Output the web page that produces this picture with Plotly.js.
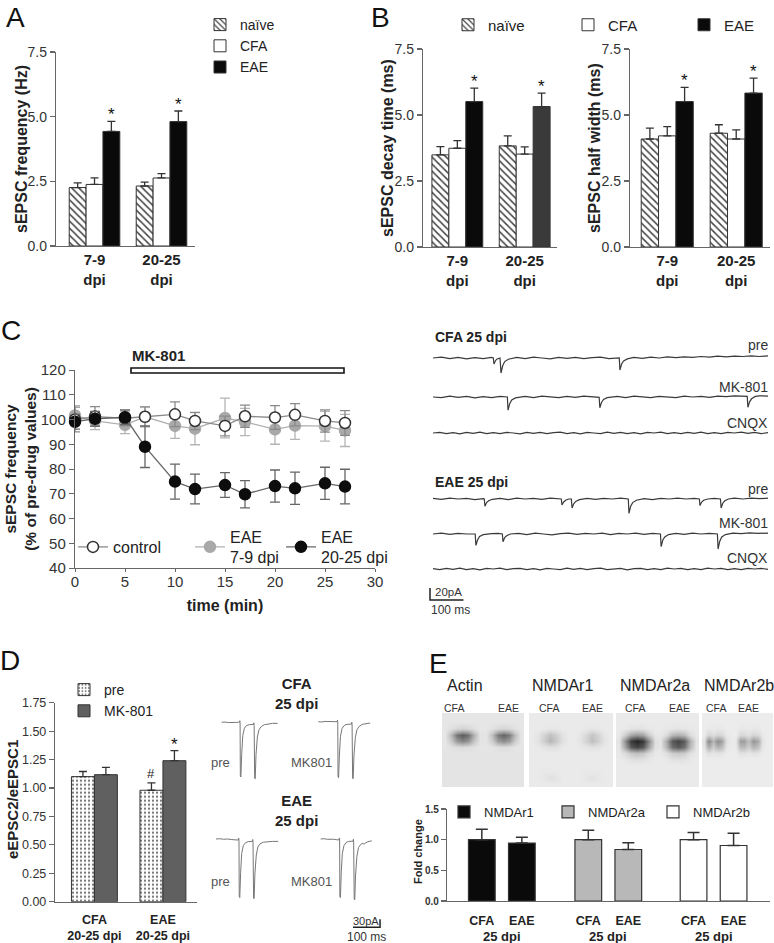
<!DOCTYPE html>
<html><head><meta charset="utf-8">
<script src="https://cdn.plot.ly/plotly-3.0.1.min.js"></script>
<style>body{margin:0;background:#fff}#plot{width:774px;height:943px}</style>
</head><body><div id="plot"></div>
<script>
// ================= DATA =================
// Panels A/B: groups and series
const groupsAB = ['7-9<br>dpi', '20-25<br>dpi'];
const seriesAB = ['naïve', 'CFA', 'EAE'];
// A: sEPSC frequency (Hz)
const freqNaive = [2.26, 2.32], freqNaiveErr = [0.18, 0.15];
const freqCFA = [2.38, 2.63], freqCFAErr = [0.25, 0.17];
const freqEAE = [4.43, 4.81], freqEAEErr = [0.39, 0.41];
// B: sEPSC decay time (ms)
const decayNaive = [3.49, 3.83], decayNaiveErr = [0.31, 0.38];
const decayCFA = [3.74, 3.52], decayCFAErr = [0.29, 0.27];
const decayEAE = [5.51, 5.32], decayEAEErr = [0.51, 0.51];
// B: sEPSC half width (ms)
const hwNaive = [4.09, 4.31], hwNaiveErr = [0.41, 0.32];
const hwCFA = [4.21, 4.09], hwCFAErr = [0.35, 0.35];
const hwEAE = [5.51, 5.83], hwEAEErr = [0.54, 0.57];
const titlesAB = ['sEPSC frequency (Hz)', 'sEPSC decay time (ms)', 'sEPSC half width (ms)'];

// C: time course (% of pre-drug values)
const timeMin = [0, 2, 5, 7, 10, 12, 15, 17, 20, 22, 25, 27];
const ctrl = [100, 101.2, 100.5, 101.1, 102.1, 99.4, 97.4, 101.3, 100.8, 101.9, 99.4, 98.6];
const ctrlErr = [5, 4, 3, 4, 5, 3.5, 4, 4.5, 4.8, 4.5, 4.5, 5];
const eae79 = [101.6, 99.4, 97.8, 101.1, 97.4, 96.3, 100.6, 99, 96, 97.5, 97.3, 95.6];
const eae79Err = [4, 3.5, 3.5, 4, 5, 6.5, 8, 5.5, 6, 5.5, 6, 6.5];
const eae2025 = [99.1, 100.3, 100.9, 89, 74.9, 71.9, 73.5, 69.8, 73.1, 72.2, 74.2, 72.9];
const eae2025Err = [3, 3, 3, 8.4, 7.1, 6, 5, 5.5, 6.5, 6.5, 6.5, 7];
const mkPeriod = [5.6, 26.9];           // MK-801 application (min)
const legendC = ['control', 'EAE<br>7-9 dpi', 'EAE<br>20-25 dpi'];

// C: example sEPSC recordings [ms, pA]
const cfaPre = [[0,0],[25,1.5],[50,-1],[75,1],[100,-1.5],[125,0.5],[150,-1],[175,1],[180,0],[182,-10],[186,-5],[190,-2],[200,0],[203,-25],[208,-13],[214,-6],[225,-2],[250,1],[275,-1],[300,1.5],[325,0],[350,-1.5],[375,1],[400,-0.5],[425,1],[450,-1],[475,0.5],[500,1.5],[525,-1],[550,0.5],[556,0],[558,-20],[563,-10],[569,-5],[580,-1.5],[600,1],[625,-0.5],[650,1.5],[675,0],[700,2],[725,0.5],[750,2],[775,1],[800,2.5],[825,1.5],[850,3],[875,2],[900,3],[925,2.5],[950,3.5],[975,2.5],[1000,3.5]];
const cfaMK = [[0,0],[25,-1],[50,1.5],[75,-0.5],[100,1],[125,-1.5],[150,0.5],[175,-1],[200,1],[222,0],[224,-22],[229,-11],[235,-5],[246,-1.5],[275,1],[300,-1],[325,1.5],[350,0],[375,-1],[400,1],[425,-0.5],[450,1.5],[475,0],[496,-0.5],[498,-18],[503,-9],[509,-4],[520,-1],[550,1],[575,-1],[600,1.5],[625,0],[650,-1],[675,1],[700,0.5],[725,-1],[750,1.5],[775,0],[800,1],[825,-0.5],[850,1.5],[875,0.5],[900,2],[925,1],[938,1],[940,-17],[945,-8],[951,-3],[962,1],[975,2],[1000,1.5]];
const cfaCNQX = [[0,0],[20,1],[40,-1],[60,0.5],[80,-1.5],[100,1],[120,-0.5],[140,1.5],[160,-1],[180,0.5],[200,-1],[220,1],[240,0],[260,-1.5],[280,1],[300,-0.5],[320,1],[340,-1],[360,0.5],[380,1.5],[400,-1],[420,0.5],[440,-1.5],[460,1],[480,0],[500,-1],[520,1.5],[540,-0.5],[560,1],[580,-1],[600,0.5],[620,-1.5],[640,1],[660,0],[680,1.5],[700,-1],[720,0.5],[740,-1],[760,1],[780,-0.5],[800,1.5],[820,-1],[840,0.5],[860,-1],[880,1],[900,0],[920,1.5],[940,-0.5],[960,1],[980,-1],[1000,0.5]];
const eaePre = [[0,1],[25,-0.5],[50,1.5],[75,0],[100,1],[125,-1],[150,0.5],[153,0],[155,-12],[160,-6],[166,-3],[177,-0.5],[200,1],[225,-1],[250,1.5],[275,0],[300,1],[325,-0.5],[350,1.5],[375,0.5],[383,0],[385,-10],[390,-5],[396,-2],[405,0],[413,0],[415,-15],[420,-8],[426,-4],[437,-1],[460,1],[485,-0.5],[510,1],[535,0],[560,1.5],[583,0],[585,-24],[590,-12],[596,-6],[607,-2],[630,0.5],[655,-1],[680,1],[705,0],[730,1.5],[755,0],[780,1],[795,0],[797,-11],[802,-5],[808,-2],[820,0],[840,1],[858,0],[860,-15],[865,-7],[871,-3],[882,0],[900,1.5],[925,0],[950,1.5],[975,0.5],[1000,1.5]];
const eaeMK = [[0,0],[25,1.5],[50,-0.5],[75,1],[100,0],[126,0],[128,-19],[133,-10],[139,-4],[150,-1],[175,0.5],[195,1],[207,0],[209,-13],[214,-6],[220,-3],[231,0],[255,1],[280,-1],[305,1.5],[330,0],[355,-1.5],[380,0.5],[405,1.5],[430,-0.5],[455,1],[480,0],[505,1.5],[530,-1],[555,1],[580,0],[605,1.5],[630,-0.5],[655,1],[679,0],[681,-21],[686,-10],[692,-5],[703,-1],[725,1],[750,-0.5],[775,1.5],[800,0],[825,1],[849,0],[851,-25],[856,-12],[862,-5],[873,-1],[895,1.5],[920,0.5],[945,2],[970,1],[1000,1.5]];
const eaeCNQX = [[0,0.5],[20,-1],[40,1],[60,-0.5],[80,1.5],[100,-1],[120,0.5],[140,-1.5],[160,1],[180,0],[200,1.5],[220,-1],[240,0.5],[260,1],[280,-1],[300,0.5],[320,-1.5],[340,1],[360,0],[380,-1],[400,1.5],[420,-0.5],[440,1],[460,-1],[480,0.5],[500,1.5],[520,-1],[540,0],[560,1],[580,-1.5],[600,0.5],[620,1],[640,-1],[660,0.5],[680,-1],[700,1.5],[720,0],[740,1],[760,-1],[780,0.5],[800,-1],[820,1.5],[840,0],[860,1],[880,-1],[900,0.5],[920,-1],[940,1],[960,0],[980,1],[1000,-0.5]];
const scaleC = {ms: 100, pA: 20};

// D: paired-pulse ratio
const groupsD = ['CFA<br>20-25 dpi', 'EAE<br>20-25 dpi'];
const seriesD = ['pre', 'MK-801'];
const ppPre = [1.10, 0.98], ppPreErr = [0.045, 0.065];
const ppMK = [1.117, 1.24], ppMKErr = [0.065, 0.088];
// D: example evoked EPSC pairs [ms, pA]
const dCfaPre = [[0,0],[12,1],[25,-1],[38,0.5],[50,-0.5],[62,0],[66,0],[67,6],[68,-2],[69,-200],[71,-205],[74,-120],[78,-50],[84,-22],[92,-12],[102,-9],[112,-8],[118,-8],[119,-2],[120,-12],[122,-210],[124,-212],[127,-120],[132,-55],[138,-28],[146,-16],[158,-9],[172,-6],[188,-4],[207,-4]];
const dCfaMK = [[0,0],[12,-1],[25,1],[38,0],[50,1],[62,-0.5],[70,0],[71,6],[72,-2],[73,-205],[75,-210],[78,-125],[82,-55],[88,-25],[96,-14],[106,-10],[116,-9],[123,-9],[124,-2],[125,-12],[127,-212],[129,-214],[132,-125],[137,-60],[143,-30],[151,-18],[162,-10],[175,-7],[192,-5]];
const dEaePre = [[0,0],[14,1],[28,-1],[42,0],[56,-2],[70,-4],[82,-4],[84,3],[85,-4],[86,-215],[88,-220],[91,-130],[95,-55],[101,-25],[109,-14],[119,-10],[129,-9],[135,-9],[136,-2],[137,-12],[139,-222],[141,-224],[144,-130],[149,-60],[155,-30],[163,-18],[175,-12],[190,-10],[210,-9],[230,-9]];
const dEaeMK = [[0,0],[12,1],[24,-1],[36,0],[48,-1],[60,-3],[68,-3],[69,4],[70,-3],[71,-215],[73,-220],[76,-125],[80,-55],[86,-25],[94,-13],[104,-9],[114,-8],[120,-8],[121,-1],[122,-12],[124,-225],[126,-228],[129,-135],[134,-65],[140,-32],[148,-20],[156,-16],[160,-20],[165,-15],[175,-10],[189,-7]];
const scaleD = {ms: 100, pA: 30};

// E: western blot densities (rows top->bottom, lanes left->right)
const blotNames = ['Actin', 'NMDAr1', 'NMDAr2a', 'NMDAr2b'];
const laneNames = ['CFA', 'EAE'];
const blotActin = [
 [.03,.03,.03,.03,.03,.03,.03,.03,.03,.03,.03,.03,.03,.03],
 [.03,.03,.03,.03,.03,.03,.03,.03,.03,.03,.03,.03,.03,.03],
 [.03,.06,.10,.12,.10,.06,.03,.03,.05,.09,.11,.09,.05,.03],
 [.03,.25,.58,.70,.60,.28,.04,.04,.22,.55,.66,.55,.22,.03],
 [.03,.16,.40,.50,.42,.18,.04,.04,.15,.38,.46,.38,.15,.03],
 [.03,.05,.07,.08,.07,.05,.03,.03,.04,.06,.07,.06,.04,.03],
 [.04,.04,.04,.04,.04,.04,.04,.04,.04,.04,.04,.04,.04,.04],
 [.04,.04,.04,.04,.04,.04,.04,.04,.04,.04,.04,.04,.04,.04],
 [.04,.04,.04,.04,.04,.04,.04,.04,.04,.04,.04,.04,.04,.04],
 [.04,.04,.04,.04,.04,.04,.04,.04,.04,.04,.04,.04,.04,.04],
 [.04,.04,.04,.04,.04,.04,.04,.04,.04,.04,.04,.04,.04,.04],
 [.04,.04,.04,.04,.04,.04,.04,.04,.04,.04,.04,.04,.04,.04]];
const blotR1 = [
 [.01,.01,.01,.01,.01,.01,.01,.01,.01,.01,.01,.01,.01,.01],
 [.01,.01,.01,.01,.01,.01,.01,.01,.01,.01,.01,.01,.01,.01],
 [.01,.01,.02,.03,.02,.01,.01,.01,.01,.02,.03,.02,.01,.01],
 [.01,.04,.12,.22,.15,.05,.01,.01,.03,.10,.19,.12,.03,.01],
 [.01,.05,.15,.26,.17,.06,.01,.01,.04,.12,.22,.14,.04,.01],
 [.01,.02,.04,.06,.05,.02,.01,.01,.02,.03,.05,.04,.02,.01],
 [.01,.01,.01,.01,.01,.01,.01,.01,.01,.01,.01,.01,.01,.01],
 [.01,.01,.01,.01,.01,.01,.01,.01,.01,.01,.01,.01,.01,.01],
 [.01,.01,.01,.01,.01,.01,.01,.01,.01,.01,.01,.01,.01,.01],
 [.01,.01,.02,.02,.02,.01,.01,.01,.01,.02,.02,.02,.01,.01],
 [.01,.01,.03,.06,.04,.01,.01,.01,.01,.03,.05,.03,.01,.01],
 [.01,.01,.01,.01,.01,.01,.01,.01,.01,.01,.01,.01,.01,.01]];
const blotR2a = [
 [.01,.01,.01,.01,.01,.01,.01,.01,.01,.01,.01,.01,.01,.01],
 [.01,.01,.01,.01,.01,.01,.01,.01,.01,.01,.01,.01,.01,.01],
 [.01,.02,.04,.05,.04,.02,.01,.01,.02,.03,.04,.03,.02,.01],
 [.02,.15,.35,.42,.35,.15,.03,.02,.08,.25,.30,.25,.08,.02],
 [.04,.45,.85,.95,.85,.45,.06,.04,.30,.70,.80,.70,.30,.04],
 [.03,.35,.70,.80,.70,.35,.05,.03,.25,.60,.70,.60,.25,.03],
 [.02,.08,.18,.22,.18,.08,.02,.02,.06,.15,.18,.15,.06,.02],
 [.01,.03,.06,.07,.06,.03,.01,.01,.02,.05,.06,.05,.02,.01],
 [.01,.01,.01,.01,.01,.01,.01,.01,.01,.01,.01,.01,.01,.01],
 [.01,.01,.01,.01,.01,.01,.01,.01,.01,.01,.01,.01,.01,.01],
 [.01,.01,.01,.01,.01,.01,.01,.01,.01,.01,.01,.01,.01,.01],
 [.01,.01,.01,.01,.01,.01,.01,.01,.01,.01,.01,.01,.01,.01]];
const blotR2b = [
 [0,0,0,0,0,0,0,0,0,0,0,0,0,0,0,0],
 [0,0,0,0,0,0,0,0,0,0,0,0,0,0,0,0],
 [0,.02,.01,.02,.02,0,0,0,.02,.02,.01,.02,.02,0,0,0],
 [0,.12,.07,.12,.10,.02,0,0,.10,.10,.06,.12,.10,.02,0,0],
 [.05,.48,.25,.45,.35,.05,.01,.02,.38,.38,.22,.42,.34,.05,0,0],
 [.03,.30,.15,.28,.22,.03,.01,.01,.24,.24,.14,.27,.22,.03,0,0],
 [0,.06,.03,.05,.04,0,0,0,.05,.05,.03,.05,.04,0,0,0],
 [0,0,0,0,0,0,0,0,0,0,0,0,0,0,0,0],
 [0,0,0,0,0,0,0,0,0,0,0,0,0,0,0,0],
 [0,0,0,0,0,0,0,0,0,0,0,0,0,0,0,0],
 [0,0,0,0,0,0,0,0,0,0,0,0,0,0,0,0],
 [0,0,0,0,0,0,0,0,0,0,0,0,0,0,0,0]];
// E: fold change
const receptorNames = ['NMDAr1', 'NMDAr2a', 'NMDAr2b'];
const eLanes = ['CFA', 'EAE'];
const foldR1 = [1.0, 0.945], foldR1Err = [0.17, 0.095];
const foldR2a = [1.0, 0.84], foldR2aErr = [0.155, 0.11];
const foldR2b = [1.0, 0.905], foldR2bErr = [0.115, 0.20];

// ================= LAYOUT HELPERS =================
const F = 'Liberation Sans, Arial, Helvetica, sans-serif';
const W = 774, H = 943;
const X = p => p / W, Y = p => 1 - p / H;
const domX = (a, b) => [a / W, b / W];
const domY = (top, bot) => [1 - bot / H, 1 - top / H];
const zeros = a => a.map(() => 0);
const AX = '#666';

function yBar(top, bot, anchor, range, dtick, fmt, fsize) {
  return {domain: domY(top, bot), anchor, range, dtick, tick0: 0, tickformat: fmt,
    showline: true, linecolor: AX, linewidth: 1.2, ticks: 'outside', ticklen: 5, tickcolor: AX, tickwidth: 1.2,
    tickfont: {family: F, size: fsize || 14, color: '#333'}, showgrid: false, zeroline: false, automargin: false,
    fixedrange: true};
}
function xBar(l, r, anchor, range, extra) {
  return Object.assign({domain: domX(l, r), anchor, range, type: 'category', showline: true, linecolor: AX,
    linewidth: 1.2, ticks: '', tickfont: {family: F, size: 15, color: '#222', weight: 'bold'},
    showgrid: false, zeroline: false, automargin: false, fixedrange: true}, extra || {});
}
function hid(dom, anchor, range) {
  return {domain: dom, anchor, range, visible: false, fixedrange: true, showgrid: false, zeroline: false};
}
function txt(text, x, y, o) {
  o = o || {};
  const f = Object.assign({family: F, size: 13, color: '#222'}, o.font || {});
  const a = Object.assign({text, x: X(x), y: Y(y), xref: 'paper', yref: 'paper', showarrow: false,
    xanchor: 'center', yanchor: 'middle'}, o);
  a.font = f;
  return a;
}
function leg(x, y, o) {
  o = o || {};
  const f = Object.assign({family: F, size: 15, color: '#222'}, o.font || {});
  const l = Object.assign({x: X(x), y: Y(y), xanchor: 'left', yanchor: 'middle', bgcolor: 'rgba(0,0,0,0)',
    borderwidth: 0, orientation: 'v', tracegroupgap: 0, itemclick: false, itemdoubleclick: false}, o);
  l.font = f;
  return l;
}

const hatch = {shape: '\\', fgcolor: '#444', bgcolor: '#fff', size: 5, solidity: 0.3};
const dots = {shape: '.', fgcolor: '#777', bgcolor: '#fff', size: 4, solidity: 0.25};
const outline = {color: '#333', width: 1};
const errStyle = (e) => ({type: 'data', array: e, arrayminus: zeros(e), symmetric: false, color: '#333', thickness: 1.3, width: 4});

const traces = [];
const annotations = [];
const shapes = [];

// ================= PANEL A / B bars =================
function barSet(xa, ya, vals, legendName, showleg, eaeColor) {
  const [nv, ne, cv, ce, ev, ee] = vals;
  traces.push({type: 'bar', x: groupsAB, y: nv, name: seriesAB[0], xaxis: xa, yaxis: ya,
    marker: {color: '#fff', pattern: hatch, line: outline}, error_y: errStyle(ne),
    showlegend: showleg, legend: legendName[0]});
  traces.push({type: 'bar', x: groupsAB, y: cv, name: seriesAB[1], xaxis: xa, yaxis: ya,
    marker: {color: '#fff', line: outline}, error_y: errStyle(ce), showlegend: showleg, legend: legendName[1]});
  traces.push({type: 'bar', x: groupsAB, y: ev, name: seriesAB[2], xaxis: xa, yaxis: ya,
    marker: {color: eaeColor, line: outline}, error_y: errStyle(ee), showlegend: showleg, legend: legendName[2]});
  const bw = (1 - 0.245) / 3;
  ev.forEach((v, i) => annotations.push({text: '*', x: i + bw, y: v + ee[i], xref: xa, yref: ya, showarrow: false,
    yanchor: 'bottom', yshift: -5, font: {family: F, size: 17, color: '#111'}}));
}
barSet('x', 'y', [freqNaive, freqNaiveErr, freqCFA, freqCFAErr, freqEAE, freqEAEErr], ['legend', 'legend', 'legend'], true, '#0a0a0a');
barSet('x2', 'y2', [decayNaive, decayNaiveErr, decayCFA, decayCFAErr, decayEAE, decayEAEErr], ['legend2', 'legend3', 'legend4'], true, ['#0a0a0a', '#3a3a3a']);
barSet('x3', 'y3', [hwNaive, hwNaiveErr, hwCFA, hwCFAErr, hwEAE, hwEAEErr], ['legend2', 'legend3', 'legend4'], false, '#0a0a0a');

// ================= PANEL C time course =================
const cStyles = [
  {name: legendC[0], y: ctrl, e: ctrlErr, fill: '#fff', mline: '#333', line: '#8a8a8a', err: '#8a8a8a', leg: 'legend5'},
  {name: legendC[1], y: eae79, e: eae79Err, fill: '#a9a9a9', mline: '#a9a9a9', line: '#b0b0b0', err: '#b5b5b5', leg: 'legend6'},
  {name: legendC[2], y: eae2025, e: eae2025Err, fill: '#0d0d0d', mline: '#0d0d0d', line: '#666', err: '#666', leg: 'legend7'}];
[cStyles[1], cStyles[0], cStyles[2]].forEach(s => traces.push({type: 'scatter', mode: 'lines+markers', x: timeMin, y: s.y,
  name: s.name, xaxis: 'x4', yaxis: 'y4', cliponaxis: false, legend: s.leg,
  line: {color: s.line, width: 1.3}, marker: {size: 11, color: s.fill, line: {color: s.mline, width: 1.5}},
  error_y: {type: 'data', array: s.e, visible: true, color: s.err, thickness: 1.3, width: 5}}));
shapes.push({type: 'rect', xref: 'x4', yref: 'paper', x0: mkPeriod[0], x1: mkPeriod[1], y0: Y(373), y1: Y(368),
  fillcolor: '#fff', line: {color: '#111', width: 1.6}});

// ================= PANEL C recordings =================
const cPxPerMs = 0.335, cPxPerPA = 0.6, cX0 = 433, cTop = 330;
const cBase = [358, 397, 433, 499, 534, 569];
[cfaPre, cfaMK, cfaCNQX, eaePre, eaeMK, eaeCNQX].forEach((tr, i) => {
  const off = -(cBase[i] - cTop) / cPxPerPA;
  traces.push({type: 'scatter', mode: 'lines', x: tr.map(p => p[0]), y: tr.map(p => p[1] + off),
    xaxis: 'x5', yaxis: 'y5', showlegend: false, line: {color: '#3a3a3a', width: 1.2}, hoverinfo: 'skip'});
});
{
  const t0 = (430 - cX0) / cPxPerMs, v0 = -(600 - cTop) / cPxPerPA;
  traces.push({type: 'scatter', mode: 'lines', x: [t0, t0, t0 + scaleC.ms], y: [v0 + scaleC.pA, v0, v0],
    xaxis: 'x5', yaxis: 'y5', showlegend: false, line: {color: '#222', width: 1.5}, hoverinfo: 'skip'});
}

// ================= PANEL D bars =================
const dW = 0.335;
traces.push({type: 'bar', x: groupsD, y: ppPre, name: seriesD[0], xaxis: 'x6', yaxis: 'y6', width: dW, offset: -dW,
  marker: {color: '#fff', pattern: dots, line: outline}, error_y: errStyle(ppPreErr), legend: 'legend8'});
traces.push({type: 'bar', x: groupsD, y: ppMK, name: seriesD[1], xaxis: 'x6', yaxis: 'y6', width: dW, offset: 0,
  marker: {color: '#606060', line: outline}, error_y: errStyle(ppMKErr), legend: 'legend8'});
annotations.push({text: '#', x: 1 - dW / 2, y: ppPre[1] + ppPreErr[1], xref: 'x6', yref: 'y6', showarrow: false,
  yanchor: 'bottom', yshift: 0, font: {family: F, size: 13, color: '#222'}});
annotations.push({text: '*', x: 1 + dW / 2, y: ppMK[1] + ppMKErr[1], xref: 'x6', yref: 'y6', showarrow: false,
  yanchor: 'bottom', yshift: -5, font: {family: F, size: 17, color: '#111'}});

// ================= PANEL D recordings =================
const dMsPerPx = 3.7, dPAPerPx = 3.75, dL = 200, dT = 700;
const dOrig = [[221.7, 722.3], [318.3, 721.7], [216, 839], [320.7, 839]];
[dCfaPre, dCfaMK, dEaePre, dEaeMK].forEach((tr, i) => {
  const t0 = (dOrig[i][0] - dL) * dMsPerPx, v0 = -(dOrig[i][1] - dT) * dPAPerPx;
  traces.push({type: 'scatter', mode: 'lines', x: tr.map(p => p[0] + t0), y: tr.map(p => p[1] + v0),
    xaxis: 'x7', yaxis: 'y7', showlegend: false, line: {color: '#777', width: 1}, hoverinfo: 'skip'});
});
{
  const t0 = (353 - dL) * dMsPerPx, v0 = -(927.3 - dT) * dPAPerPx;
  traces.push({type: 'scatter', mode: 'lines', x: [t0, t0 + scaleD.ms, t0 + scaleD.ms], y: [v0, v0, v0 + scaleD.pA],
    xaxis: 'x7', yaxis: 'y7', showlegend: false, line: {color: '#222', width: 1.5}, hoverinfo: 'skip'});
}

// ================= PANEL E blots =================
const blotPanels = [[442, 524], [529, 613], [616, 699], [702, 773]];
const blotTop = 713, blotBot = 787;
[blotActin, blotR1, blotR2a, blotR2b].forEach((z, i) => {
  const [l, r] = blotPanels[i];
  const dx = (r - l) / z[0].length, dy = (blotBot - blotTop) / z.length;
  traces.push({type: 'heatmap', z, x0: l + dx / 2, dx, y0: blotTop + dy / 2, dy, xaxis: 'x8', yaxis: 'y8',
    zmin: 0, zmax: 1, zsmooth: 'best', showscale: false, hoverinfo: 'skip',
    colorscale: [[0, '#ececec'], [0.4, '#9a9a9a'], [1, '#1a1a1a']]});
});

// ================= PANEL E bars =================
const eGroupStart = [0, 2.66, 5.29], eBW = 0.667;
const eSets = [[foldR1, foldR1Err, '#0a0a0a'], [foldR2a, foldR2aErr, '#b8b8b8'], [foldR2b, foldR2bErr, '#fff']];
const eTickVals = [], eTickText = [];
eSets.forEach((s, g) => {
  const xs = eLanes.map((_, k) => eGroupStart[g] + k);
  xs.forEach((x, k) => { eTickVals.push(x); eTickText.push(eLanes[k]); });
  traces.push({type: 'bar', x: xs, y: s[0], name: receptorNames[g], xaxis: 'x9', yaxis: 'y9', width: eBW,
    offset: -eBW / 2, marker: {color: s[2], line: {color: '#333', width: 1.2}},
    error_y: {type: 'data', array: s[1], arrayminus: zeros(s[1]), symmetric: false, color: '#333', thickness: 1.5, width: 6},
    legend: 'legend' + (9 + g)});
  annotations.push({text: '25 dpi', x: eGroupStart[g] + 0.5, y: Y(936), xref: 'x9', yref: 'paper', showarrow: false,
    yanchor: 'middle', font: {family: F, size: 13, weight: 'bold', color: '#222'}});
});

// ================= TEXT =================
const letterFont = {size: 28, color: '#111'};
annotations.push(txt('A', 15, 17, {font: letterFont}));
annotations.push(txt('B', 380, 17, {font: letterFont}));
annotations.push(txt('C', 11, 331, {font: letterFont}));
annotations.push(txt('D', 10, 660, {font: letterFont}));
annotations.push(txt('E', 438, 663, {font: letterFont}));
// rotated y-axis titles
const yTitle = {textangle: -90};
annotations.push(txt(titlesAB[0], 21, 149, Object.assign({font: {size: 16, weight: 'bold'}}, yTitle)));
annotations.push(txt(titlesAB[1], 387, 148, Object.assign({font: {size: 16, weight: 'bold'}}, yTitle)));
annotations.push(txt(titlesAB[2], 594, 148, Object.assign({font: {size: 16, weight: 'bold'}}, yTitle)));
annotations.push(txt('eEPSC2/eEPSC1', 12, 800, Object.assign({font: {size: 15, weight: 'bold'}}, yTitle)));
annotations.push(txt('Fold change', 418, 852, Object.assign({font: {size: 11, weight: 'bold'}}, yTitle)));

annotations.push(txt('MK-801', 130, 355, {xanchor: 'left', font: {size: 15, weight: 'bold'}}));
annotations.push(txt('CFA 25 dpi', 433, 337, {xanchor: 'left', font: {size: 14, weight: 'bold'}}));
annotations.push(txt('EAE 25 dpi', 433, 482, {xanchor: 'left', font: {size: 14, weight: 'bold'}}));
[['pre', 345], ['MK-801', 387], ['CNQX', 423], ['pre', 489], ['MK-801', 523], ['CNQX', 558]].forEach(a =>
  annotations.push(txt(a[0], 770, a[1], {xanchor: 'right', font: {size: 14, color: '#333'}})));
annotations.push(txt('20pA', 433, 592, {xanchor: 'left', font: {size: 11.5, color: '#333'}}));
annotations.push(txt('100 ms', 429, 610, {xanchor: 'left', font: {size: 12, color: '#333'}}));
annotations.push(txt('CFA<br>25 dpi', 296, 693, {font: {size: 15, weight: 'bold'}}));
annotations.push(txt('EAE<br>25 dpi', 296, 810, {font: {size: 15, weight: 'bold'}}));
[[232, 762, 'pre'], [334, 762, 'MK801'], [232, 881, 'pre'], [334, 881, 'MK801']].forEach(a =>
  annotations.push(txt(a[2], a[0], a[1], {xanchor: 'right', font: {size: 13, color: '#555'}})));
annotations.push(txt('30pA', 366, 921, {font: {size: 11, color: '#333'}}));
annotations.push(txt('100 ms', 366, 937, {font: {size: 12, color: '#333'}}));
const blotLabelX = [445, 530, 618, 702];
blotNames.forEach((n, i) => annotations.push(txt(n, blotLabelX[i], 685, {xanchor: 'left', font: {size: 16, color: '#222'}})));
const laneX = [[454, 508], [549, 592], [635, 679], [716, 748]];
laneX.forEach(p => p.forEach((x, k) => annotations.push(txt(laneNames[k], x, 708, {font: {size: 10.5, color: '#333'}}))));

// ================= LAYOUT =================
const layout = {
  width: W, height: H, margin: {l: 0, r: 0, t: 0, b: 0}, paper_bgcolor: '#fff', plot_bgcolor: 'rgba(0,0,0,0)',
  font: {family: F, color: '#222'}, showlegend: true, barmode: 'group', bargap: 0.245, bargroupgap: 0,
  xaxis: xBar(56, 195, 'y', [-0.575, 1.5]),
  yaxis: yBar(52, 246, 'x', [0, 7.5], 2.5, '.1f'),
  xaxis2: xBar(423, 557, 'y2', [-0.51, 1.48]),
  yaxis2: yBar(49, 247, 'x2', [0, 7.5], 2.5, '.1f'),
  xaxis3: xBar(630, 770, 'y3', [-0.54, 1.49]),
  yaxis3: yBar(49, 247, 'x3', [0, 7.5], 2.5, '.1f'),
  xaxis4: {domain: domX(75, 375), anchor: 'y4', range: [0, 30], dtick: 5, tick0: 0, showline: true, linecolor: AX,
    linewidth: 1.2, ticks: 'outside', ticklen: 3, tickcolor: AX, ticklabelstandoff: -3,
    tickfont: {family: F, size: 15, color: '#333'},
    showgrid: false, zeroline: false, automargin: false, fixedrange: true,
    title: {text: 'time (min)', standoff: 10, font: {family: F, size: 16, weight: 'bold', color: '#222'}}},
  yaxis4: {domain: domY(370, 568), anchor: 'x4', range: [40, 120], dtick: 10, tick0: 40, showline: true, linecolor: AX,
    linewidth: 1.2, ticks: 'outside', ticklen: 5, tickcolor: AX, tickfont: {family: F, size: 15, color: '#333'},
    showgrid: false, zeroline: false, automargin: false, fixedrange: true,
    title: {text: 'sEPSC frequency<br>(% of pre-drug values)', font: {family: F, size: 15.5, weight: 'bold', color: '#222'}}},
  xaxis5: hid(domX(425, 772), 'y5', [(425 - cX0) / cPxPerMs, (772 - cX0) / cPxPerMs]),
  yaxis5: hid(domY(cTop, 612), 'x5', [-(612 - cTop) / cPxPerPA, 0]),
  xaxis6: xBar(55, 197, 'y6', [-0.575, 1.497], {ticklabelstandoff: 6, tickfont: {family: F, size: 12.5, color: '#222', weight: 'bold'}}),
  yaxis6: yBar(702.7, 901.7, 'x6', [0, 1.75], 0.25, '.2f', 12.5),
  xaxis7: hid(domX(dL, 390), 'y7', [0, (390 - dL) * dMsPerPx]),
  yaxis7: hid(domY(dT, 940), 'x7', [-(940 - dT) * dPAPerPx, 0]),
  xaxis8: hid(domX(442, 773), 'y8', [442, 773]),
  yaxis8: hid(domY(blotTop, blotBot), 'x8', [blotBot, blotTop]),
  xaxis9: {domain: domX(447, 770), anchor: 'y9', range: [-0.87, 7.2], showline: true, linecolor: AX, linewidth: 1.2,
    ticks: '', tickvals: eTickVals, ticktext: eTickText, ticklabelstandoff: 8,
    tickfont: {family: F, size: 12.5, weight: 'bold', color: '#222'},
    showgrid: false, zeroline: false, automargin: false, fixedrange: true},
  yaxis9: yBar(809, 901, 'x9', [0, 1.5], 0.5, '.1f', 10),
  legend: leg(200, 9, {yanchor: 'top', font: {size: 14}}),
  legend2: leg(448, 25),
  legend3: leg(568, 25),
  legend4: leg(684, 25),
  legend5: leg(73, 547, {font: {size: 16}}),
  legend6: leg(190, 547, {font: {size: 16}}),
  legend7: leg(281, 547, {font: {size: 16}}),
  legend8: leg(64, 674, {yanchor: 'top', font: {size: 14}}),
  legend9: leg(444, 812, {font: {size: 13}}),
  legend10: leg(548, 812, {font: {size: 13}}),
  legend11: leg(653, 812, {font: {size: 13}}),
  annotations, shapes
};
layout.yaxis9.tickfont.weight = 'bold';

Plotly.newPlot('plot', traces, layout, {displayModeBar: false, staticPlot: true});
</script></body></html>
